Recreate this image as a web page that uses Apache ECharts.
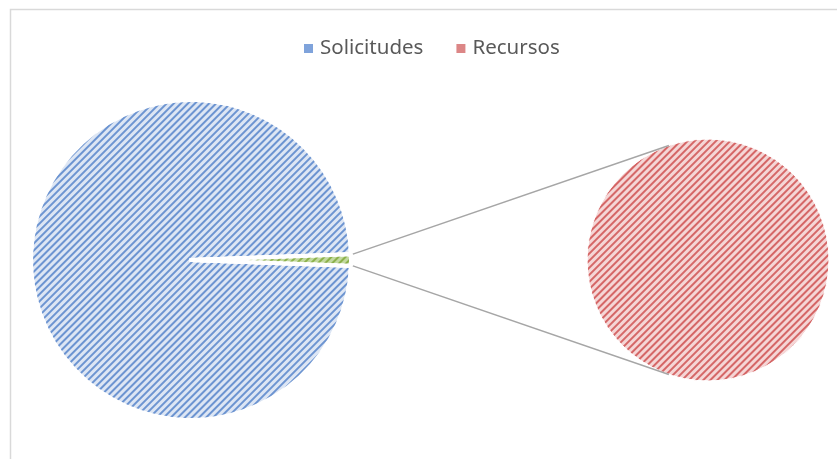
<!DOCTYPE html>
<html>
<head>
<meta charset="utf-8">
<script src="https://cdn.jsdelivr.net/npm/echarts@6/dist/echarts.min.js"></script>
<style>html,body{margin:0;padding:0;background:#fff}#c{width:837px;height:459px}</style>
</head>
<body>
<div id="c"></div>
<script>
// Data
const categories = ['Solicitudes', 'Recursos'];
const values = [1100, 13];
const otherLabel = 'Otros';

// Layout
const mainCenter = [191, 260], mainR = 160;
const subCenter = [708, 260], subR = 121;

const chart = echarts.init(document.getElementById('c'), null, {renderer: 'canvas'});

const total = values[0] + values[1];
const otherDeg = 360 * values[1] / total;

function stripes(color) {
  return {
    symbol: 'rect', symbolSize: 1, color: color,
    dashArrayX: [1, 0], dashArrayY: [2, 2.3], rotation: -Math.PI / 4
  };
}

function tangentPoint(p, c, r, sign) {
  const dx = p[0] - c[0], dy = p[1] - c[1];
  const d = Math.sqrt(dx * dx + dy * dy);
  const base = Math.atan2(dy, dx);
  const a = base + sign * Math.acos(r / d);
  return [c[0] + r * Math.cos(a), c[1] + r * Math.sin(a)];
}
const half = otherDeg / 2 * Math.PI / 180;
const pTop = [mainCenter[0] + mainR * Math.cos(half), mainCenter[1] - mainR * Math.sin(half)];
const pBot = [mainCenter[0] + mainR * Math.cos(half), mainCenter[1] + mainR * Math.sin(half)];
const tTop = tangentPoint(pTop, subCenter, subR, 1);
const tBot = tangentPoint(pBot, subCenter, subR, -1);

const option = {
  animation: false,
  legend: {
    data: [
      {name: categories[0], itemStyle: {color: '#7fa3db', decal: 'none', borderWidth: 0}},
      {name: categories[1], itemStyle: {color: '#dc8686', decal: 'none', borderWidth: 0}}
    ],
    top: 33, left: 299,
    itemWidth: 9, itemHeight: 9, itemGap: 33,
    icon: 'rect',
    textStyle: {fontFamily: 'Noto Sans', fontSize: 20.5, color: '#595959', padding: [0, 0, 0, 2]}
  },
  graphic: [
    {type: 'rect', shape: {x: 10.5, y: 9.5, width: 900, height: 500}, style: {fill: 'none', stroke: '#d9d9d9', lineWidth: 1.5}, silent: true},
    {type: 'line', shape: {x1: pTop[0] + 2, y1: pTop[1], x2: tTop[0], y2: tTop[1]}, style: {stroke: '#a6a6a6', lineWidth: 1.5}, z: 10},
    {type: 'line', shape: {x1: pBot[0] + 2, y1: pBot[1], x2: tBot[0], y2: tBot[1]}, style: {stroke: '#a6a6a6', lineWidth: 1.5}, z: 10}
  ],
  series: [
    {
      type: 'pie', center: mainCenter, radius: mainR,
      startAngle: -otherDeg / 2, clockwise: true,
      label: {show: false}, labelLine: {show: false}, silent: true,
      itemStyle: {borderColor: '#fff', borderWidth: 4},
      data: [
        {name: categories[0], value: values[0], itemStyle: {color: '#dde6f4', decal: stripes('rgba(80,128,200,0.8)')}},
        {name: otherLabel, value: values[1], itemStyle: {color: '#c3d9a0', decal: stripes('rgba(130,170,60,0.85)')}}
      ]
    },
    {
      type: 'pie', center: subCenter, radius: subR,
      label: {show: false}, labelLine: {show: false}, silent: true,
      itemStyle: {borderColor: '#fff', borderWidth: 1},
      data: [
        {name: categories[1], value: values[1], itemStyle: {color: '#f5d6d6', decal: stripes('rgba(205,75,75,0.8)')}}
      ]
    }
  ]
};
chart.setOption(option);
</script>
</body>
</html>
